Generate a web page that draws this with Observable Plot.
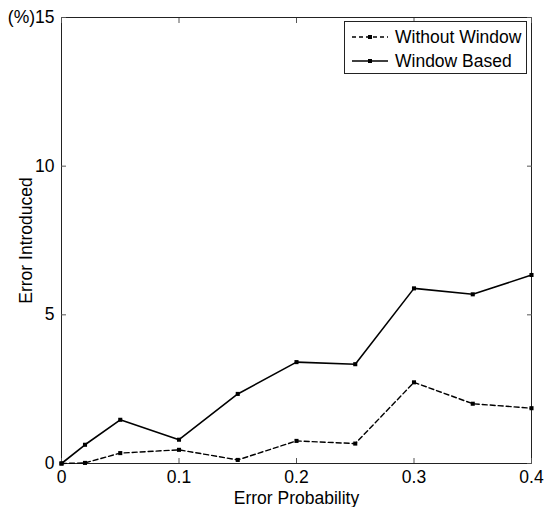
<!DOCTYPE html>
<html><head><meta charset="utf-8">
<script src="https://cdn.jsdelivr.net/npm/d3@7"></script>
<script src="https://cdn.jsdelivr.net/npm/@observablehq/plot@0.6"></script>
<style>
body{margin:0;background:#fff;font-family:"Liberation Sans",Arial,sans-serif;}
#wrap{position:relative;width:544px;height:507px;}
#legend{position:absolute;left:344px;top:21px;width:181px;height:51px;border:1px solid #222;background:#fff;font-size:17.5px;color:#000;}
#legend .row{position:absolute;left:0;height:20px;display:flex;align-items:center;}
#legend svg{margin-left:7px;margin-right:7px;}
</style></head>
<body><div id="wrap"><div id="chart"></div>
<div id="legend"></div></div>
<script>
const errorProb = [0, 0.02, 0.05, 0.1, 0.15, 0.2, 0.25, 0.3, 0.35, 0.4];
const withoutWindow = [0, 0.02, 0.35, 0.46, 0.12, 0.76, 0.67, 2.73, 2.01, 1.86];
const windowBased = [0, 0.63, 1.47, 0.80, 2.34, 3.41, 3.34, 5.89, 5.69, 6.34];
const seriesNames = ["Without Window", "Window Based"];
const xTicks = [0, 0.1, 0.2, 0.3, 0.4];
const xTickLabels = ["0", "0.1", "0.2", "0.3", "0.4"];
const yTicks = [0, 5, 10, 15];
const yTickLabels = ["0", "5", "10", "(%)15"];

const data = [];
errorProb.forEach((x, i) => {
  data.push({x, y: withoutWindow[i], s: seriesNames[0]});
  data.push({x, y: windowBased[i], s: seriesNames[1]});
});
const dWithout = data.filter(d => d.s === seriesNames[0]);
const dWith = data.filter(d => d.s === seriesNames[1]);

const xFmt = d => xTickLabels[xTicks.indexOf(d)];
const yFmt = d => yTickLabels[yTicks.indexOf(d)];

const chart = Plot.plot({
  width: 544, height: 507,
  marginLeft: 61, marginRight: 13, marginTop: 17, marginBottom: 44,
  style: {fontFamily: '"Liberation Sans", Arial, sans-serif', fontSize: "17.5px", color: "#000", background: "#fff"},
  x: {domain: [0, 0.4]},
  y: {domain: [0, 15]},
  marks: [
    Plot.frame({stroke: "#222", strokeWidth: 1}),
    Plot.axisX({ticks: xTicks, tickFormat: xFmt, tickSize: -5, tickPadding: 12, fontSize: 17.5, label: "Error Probability", labelAnchor: "center", labelArrow: "none", labelOffset: 40, stroke: "#555"}),
    Plot.axisX({anchor: "top", ticks: xTicks, tickFormat: () => "", tickSize: -5, label: null, stroke: "#555"}),
    Plot.axisY({ticks: yTicks, tickFormat: yFmt, tickSize: -5, tickPadding: 12, fontSize: 17.5, label: "Error Introduced", labelAnchor: "center", labelArrow: "none", labelOffset: 42, stroke: "#555"}),
    Plot.axisY({anchor: "right", ticks: yTicks, tickFormat: () => "", tickSize: -5, label: null, stroke: "#555"}),
    Plot.line(dWithout, {x: "x", y: "y", stroke: "#000", strokeWidth: 1.4, strokeDasharray: "5,3"}),
    Plot.line(dWith, {x: "x", y: "y", stroke: "#000", strokeWidth: 1.6}),
    Plot.dot(data, {x: "x", y: "y", symbol: "square", r: 2.3, fill: "#000", stroke: "none"})
  ]
});
document.getElementById("chart").appendChild(chart);

const leg = document.getElementById("legend");
seriesNames.forEach((name, i) => {
  const row = document.createElement("div");
  row.className = "row";
  row.style.top = (i === 0 ? 5 : 29) + "px";
  const dash = i === 0 ? 'stroke-dasharray="4,3"' : "";
  row.innerHTML = `<svg width="36" height="10"><line x1="0" y1="5" x2="36" y2="5" stroke="#000" stroke-width="1.5" ${dash}/><rect x="16" y="3" width="4" height="4" fill="#000"/></svg><span>${name}</span>`;
  leg.appendChild(row);
});
</script></body></html>
